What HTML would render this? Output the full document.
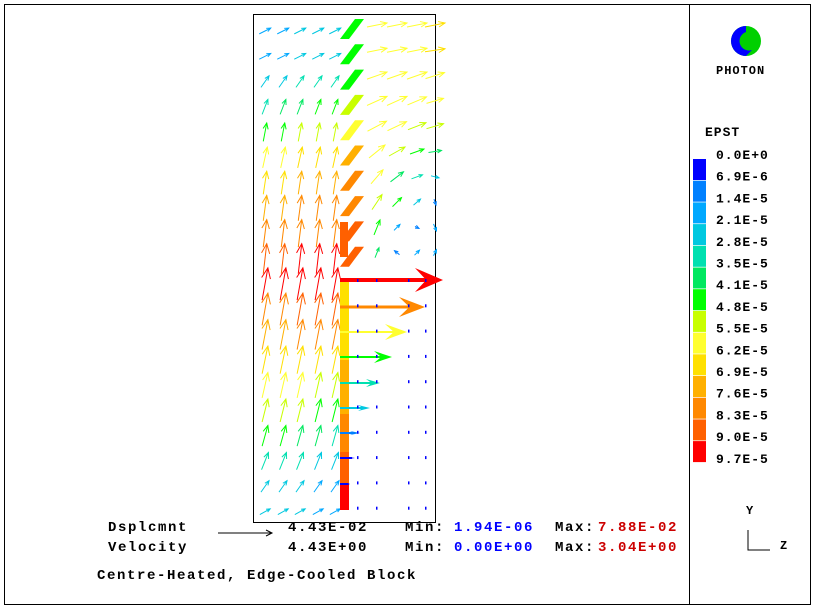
<!DOCTYPE html>
<html><head><meta charset="utf-8"><style>
body{margin:0;background:#fff;width:815px;height:609px;overflow:hidden}
svg{position:absolute;left:0;top:0}
text{font-family:"Liberation Mono",monospace;font-size:14px;font-weight:bold;letter-spacing:1.6px}
</style></head><body>
<svg id="s" width="815" height="609" xmlns="http://www.w3.org/2000/svg">
<rect x="4.5" y="4.5" width="806" height="600" fill="none" stroke="#000"/>
<line x1="689.5" y1="4" x2="689.5" y2="605" stroke="#000"/>
<rect x="253.5" y="14.5" width="182" height="508" fill="none" stroke="#000"/>
<g id="g"></g>
<circle cx="746" cy="41" r="15" fill="#00d000"/>
<path d="M746 26 A15 15 0 0 0 746 56 L752 50 A9 9 0 0 1 746 32 Z" fill="#0000ff"/>
<text x="716" y="74" style="font-size:12px;letter-spacing:1px">PHOTON</text>
<text x="705" y="136" style="font-size:13px;letter-spacing:1px">EPST</text>
<g id="leg"></g>
<text x="108" y="531">Dsplcmnt</text>
<text x="108" y="551">Velocity</text>
<line x1="218" y1="533" x2="272" y2="533" stroke="#000"/>
<path d="M266 530 L272 533 L266 536" fill="none" stroke="#000"/>
<text x="288" y="531">4.43E-02</text>
<text x="288" y="551">4.43E+00</text>
<text x="405" y="531">Min:</text><text x="405" y="551">Min:</text>
<text x="454" y="531" fill="#0000ff">1.94E-06</text>
<text x="454" y="551" fill="#0000ff">0.00E+00</text>
<text x="555" y="531">Max:</text><text x="555" y="551">Max:</text>
<text x="598" y="531" fill="#cc0000">7.88E-02</text>
<text x="598" y="551" fill="#cc0000">3.04E+00</text>
<text x="97" y="579">Centre-Heated, Edge-Cooled Block</text>
<text x="746" y="514" style="font-size:12px">Y</text>
<text x="780" y="549" style="font-size:12px">Z</text>
<path d="M748 530 L748 550 L770 550" fill="none" stroke="#000"/>
</svg>
<script>
var NS="http://www.w3.org/2000/svg",g=document.getElementById('g'),L=document.getElementById('leg');
var C=["#0000ff","#0080ff","#00a8ff","#00c8e0","#00e0b0","#00e860","#00ff00","#c8ff00","#ffff30","#ffe000","#ffb000","#ff8800","#ff6000","#ff0000"];
var labs=["0.0E+0","6.9E-6","1.4E-5","2.1E-5","2.8E-5","3.5E-5","4.1E-5","4.8E-5","5.5E-5","6.2E-5","6.9E-5","7.6E-5","8.3E-5","9.0E-5","9.7E-5"];
function el(t,a,p){var e=document.createElementNS(NS,t);for(var k in a)e.setAttribute(k,a[k]);(p||g).appendChild(e);return e;}
for(var i=0;i<14;i++)el('rect',{x:693,y:159+i*21.7,width:13,height:21,fill:C[i]},L);
for(var i=0;i<15;i++){var t=el('text',{x:716,y:159+i*21.7,style:"font-size:13px;letter-spacing:1px"},L);t.textContent=labs[i];}
function arrow(x,y,dx,dy,c,w,hs){w=w||1;var x2=x+dx,y2=y+dy,l=Math.hypot(dx,dy)||1,ux=dx/l,uy=dy/l;hs=hs||Math.max(4,l*0.35);
el('line',{x1:x,y1:y,x2:x2,y2:y2,stroke:c,'stroke-width':w});
var a=0.4,c1=Math.cos(a),s1=Math.sin(a);
el('polyline',{points:(x2-hs*(ux*c1-uy*s1))+","+(y2-hs*(uy*c1+ux*s1))+" "+x2+","+y2+" "+(x2-hs*(ux*c1+uy*s1))+","+(y2-hs*(uy*c1-ux*s1)),fill:"none",stroke:c,'stroke-width':w});}
function fillArrow(x,y,len,c,th,hl,hw){el('line',{x1:x,y1:y,x2:x+len-hl*0.5,y2:y,stroke:c,'stroke-width':th});
el('polygon',{points:(x+len-hl)+","+(y-hw)+" "+(x+len)+","+y+" "+(x+len-hl)+","+(y+hw)+" "+(x+len-hl*0.6)+","+y,fill:c});}
function ry(i){return 27+25.3*i;}
var cols=[263,281,298,316,333];
var V=[[10,-5,2,3],[10,-5,2,3],[7,-10,3,4],[5,-13,4,6],[3,-16,6,7],[4,-18,8,9],[3,-20,9,10],[3,-22,10,11],[3,-24,11,11],[3,-26,12,13],[5,-28,13,13],[5,-28,11,12],[5,-26,10,11],[5,-24,9,9],[5,-22,8,7],[5,-20,7,6],[5,-18,6,4],[6,-15,4,3],[7,-10,3,2],[9,-5,3,2]];
for(var r=0;r<20;r++){var v=V[r];for(var j=0;j<5;j++){var ci=Math.round(v[2]+(v[3]-v[2])*j/4);var dx=v[0]*1.15,dy=v[1]*1.15;var y0=ry(r)-dy/2+4;arrow(cols[j]-dx/2+2,y0,dx,dy,C[ci],1);}}
var tc=[6,6,6,7,8,10,11,11,12,12];
for(var r=0;r<10;r++){var y=ry(r);el('polygon',{points:"340,"+(y+12)+" 349,"+(y+12)+" 364,"+(y-8)+" 355,"+(y-8),fill:C[tc[r]]});}
el('rect',{x:340,y:222,width:8,height:35,fill:"#ff6000"});
var RC=[377,397,417,435];
var R=[[[20,-4,8],[20,-4,8],[20,-4,8],[20,-4,9]],[[20,-4,8],[20,-4,8],[20,-4,8],[20,-3,9]],[[20,-7,8],[20,-7,8],[20,-7,8],[19,-6,8]],[[20,-9,8],[20,-9,8],[19,-8,8],[17,-5,8]],[[19,-10,8],[19,-9,8],[18,-7,7],[17,-5,7]],[[16,-13,8],[16,-9,7],[14,-5,6],[13,-2,5]],[[12,-14,8],[13,-10,5],[11,-4,4],[8,2,3]],[[10,-15,7],[9,-9,6],[7,-6,3],[2,6,1]],[[6,-15,6],[6,-6,2],[4,2,1],[3,7,2]],[[4,-10,5],[-5,-4,1],[5,-5,2],[3,-6,2]]];
for(var r=0;r<10;r++)for(var j=0;j<4;j++){var q=R[r][j];arrow(RC[j]-q[0]/2,ry(r)-q[1]/2-2,q[0],q[1],C[q[2]],1);}
var bs=[[280,360,"#ffe000"],[360,414,"#ffb000"],[414,452,"#ff8800"],[452,484,"#ff6000"],[484,510,"#ff0000"]];
bs.forEach(function(b){el('rect',{x:340,y:b[0],width:9,height:b[1]-b[0],fill:b[2]});});
var H=[[280,443,13,4,28,12],[307,425,11,3,26,10],[332,407,8,2,22,8],[357,392,6,2,18,6],[383,380,4,2,14,4],[408,370,3,2,12,3],[433,360,1,2,10,2],[458,355,0,2,6,1],[484,350,0,2,3,1]];
H.forEach(function(h){fillArrow(340,h[0],h[1]-340,C[h[2]],h[3],h[4],h[5]);});
[357,376,408,425].forEach(function(x){for(var r=10;r<20;r++)el('rect',{x:x,y:ry(r)-1,width:1.5,height:3,fill:"#0000ff"});});
</script>
</body></html>
